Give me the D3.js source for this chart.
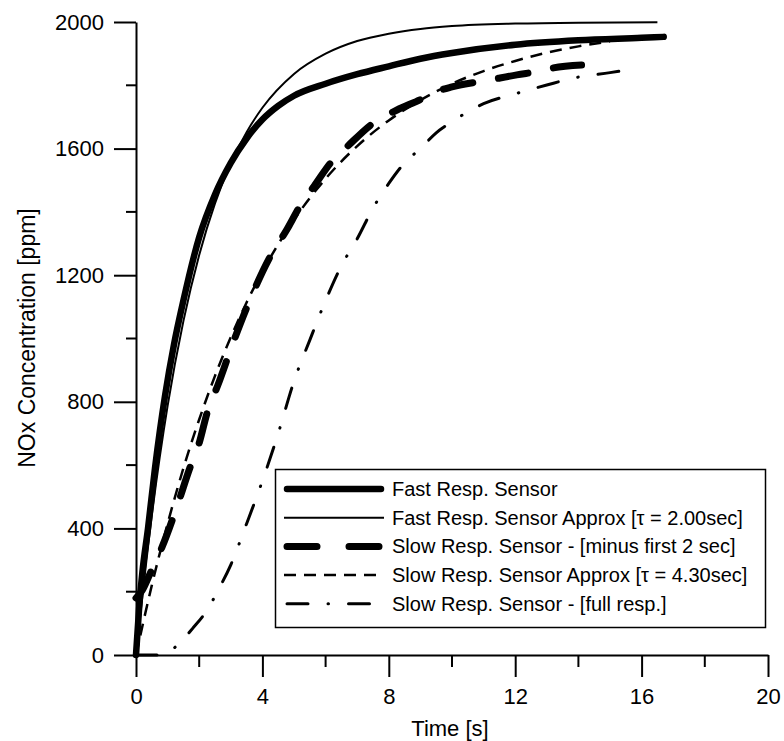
<!DOCTYPE html>
<html>
<head>
<meta charset="utf-8">
<script src="https://cdn.jsdelivr.net/npm/d3@7"></script>
<style>
  body { margin: 0; background: #fff; }
  svg text { font-family: "Liberation Sans", Arial, sans-serif; fill: #000; }
</style>
</head>
<body>
<div class="graphic"></div>
<script>
// values, [time s, NOx ppm]
var fastSensor = [[0,0],[0.1,150],[0.2,260],[0.38,400],[0.6,590],[0.92,820],[1.2,980],[1.5,1120],[2,1320],[2.5,1455],[3,1555],[3.5,1632],[4,1692],[4.5,1735],[5,1767],[6,1805],[7,1835],[8,1860],[9,1884],[10,1902],[12,1928],[14,1942],[16,1950],[16.7,1953]];
var fastApprox = [[0,0],[0.5,440],[1,787],[1.5,1055],[2,1264],[2.5,1427],[3,1554],[3.5,1652],[4,1729],[5,1836],[6,1900],[7,1940],[8,1963],[9,1978],[10,1987],[12,1995],[14,1998],[16.5,1999]];
var slowMinus2 = [[0,180],[0.2,205],[0.5,270],[0.82,340],[1.3,470],[1.7,590],[2,670],[2.25,765],[2.6,855],[3.07,986],[3.7,1144],[4.2,1250],[4.78,1345],[5.2,1420],[5.66,1485],[6.2,1560],[6.7,1608],[7.5,1680],[8.26,1722],[9,1755],[9.5,1780],[10,1795],[11.2,1817],[12.05,1833],[12.78,1845],[13.2,1855],[14.1,1864]];
var slowApprox = [[0,0],[0.5,220],[1,415],[1.5,590],[2,744],[2.5,882],[3,1004],[3.5,1114],[4,1211],[5,1375],[6,1505],[7,1608],[8,1689],[9,1753],[10,1805],[11,1845],[12,1877],[13,1903],[14,1923],[15,1939]];
var slowFull = [[0,0],[0.8,0],[1.3,30],[1.8,85],[2.25,142],[2.6,205],[3,285],[3.5,415],[4,550],[4.5,700],[5,865],[5.5,995],[6,1120],[6.5,1230],[7,1315],[7.5,1412],[8,1490],[8.5,1555],[9,1600],[9.5,1650],[10,1685],[11,1742],[12,1773],[13,1801],[14,1826],[15,1840],[15.9,1855]];

var seriesNames = ["Fast Resp. Sensor", "Fast Resp. Sensor Approx [\u03c4 = 2.00sec]", "Slow Resp. Sensor - [minus first 2 sec]", "Slow Resp. Sensor Approx [\u03c4 = 4.30sec]", "Slow Resp. Sensor - [full resp.]"];
var xTicks = [0, 4, 8, 12, 16, 20];
var yTicks = [0, 400, 800, 1200, 1600, 2000];

var render = function() {
  var containerElement = document.querySelector(".graphic");
  containerElement.innerHTML = "";

  var width = 784, height = 741;
  var svg = d3.select(containerElement).append("svg")
    .attr("width", width)
    .attr("height", height);

  var x = d3.scaleLinear().domain([0, 20]).range([136, 768]);
  var y = d3.scaleLinear().domain([0, 2000]).range([655, 22]);

  // styles for each series (same order as seriesNames)
  var styles = [
    { data: fastSensor, w: 6.5, dash: null, cap: "round" },
    { data: fastApprox, w: 2, dash: null, cap: "butt" },
    { data: slowMinus2, w: 7, dash: "30,26", cap: "round" },
    { data: slowApprox, w: 2.5, dash: "12,8", cap: "butt" },
    { data: slowFull, w: 3, dash: "21,20,0.5,20", cap: "round" }
  ];

  // axes
  var xAxis = svg.append("g")
    .attr("transform", "translate(0," + y(0) + ")")
    .call(d3.axisBottom(x).tickValues(xTicks).tickFormat(d3.format("d")).tickSize(22).tickSizeOuter(0).tickPadding(11));
  xAxis.append("g")
    .selectAll("line")
    .data([2, 6, 10, 14, 18])
    .enter().append("line")
    .attr("x1", function(d) { return x(d); })
    .attr("x2", function(d) { return x(d); })
    .attr("y2", 12)
    .attr("stroke", "#000");

  var yAxis = svg.append("g")
    .attr("transform", "translate(" + x(0) + ",0)")
    .call(d3.axisLeft(y).tickValues(yTicks).tickFormat(d3.format("d")).tickSize(22).tickSizeOuter(0).tickPadding(10));
  yAxis.append("g")
    .selectAll("line")
    .data([200, 600, 1000, 1400, 1800])
    .enter().append("line")
    .attr("y1", function(d) { return y(d); })
    .attr("y2", function(d) { return y(d); })
    .attr("x2", -10)
    .attr("stroke", "#000");

  svg.selectAll(".domain, .tick line, g line").attr("stroke-width", 2);
  svg.selectAll(".tick text")
    .attr("font-size", 22)
    .style("font-family", "'Liberation Sans', Arial, sans-serif");

  svg.append("text")
    .attr("x", 450)
    .attr("y", 736)
    .attr("text-anchor", "middle")
    .attr("font-size", 22)
    .text("Time [s]");

  svg.append("text")
    .attr("transform", "translate(35,338) rotate(-90)")
    .attr("text-anchor", "middle")
    .attr("font-size", 23)
    .text("NOx Concentration [ppm]");

  // curves
  var line = d3.line()
    .x(function(d) { return x(d[0]); })
    .y(function(d) { return y(d[1]); })
    .curve(d3.curveMonotoneX);

  svg.append("g")
    .selectAll("path")
    .data(styles)
    .enter().append("path")
    .attr("d", function(d) { return line(d.data); })
    .attr("fill", "none")
    .attr("stroke", "#000")
    .attr("stroke-width", function(d) { return d.w; })
    .attr("stroke-dasharray", function(d) { return d.dash; })
    .attr("stroke-linecap", function(d) { return d.cap; })
    .attr("stroke-linejoin", "round");

  // legend
  var legend = svg.append("g");
  legend.append("rect")
    .attr("x", 275.5)
    .attr("y", 469.5)
    .attr("width", 490)
    .attr("height", 158)
    .attr("fill", "#fff")
    .attr("stroke", "#000")
    .attr("stroke-width", 1.5);

  var legendDash = [null, null, "30,32", "12,8", "21,20,0.5,20"];
  var rows = legend.selectAll(".row")
    .data(styles)
    .enter().append("g")
    .attr("class", "row")
    .attr("transform", function(d, i) { return "translate(0," + (489 + i * 28.7) + ")"; });

  rows.append("line")
    .attr("x1", function(d) { return d.cap == "round" ? 287 : 284; })
    .attr("x2", function(d) { return d.cap == "round" ? 381 : 384; })
    .attr("stroke", "#000")
    .attr("stroke-width", function(d) { return d.w; })
    .attr("stroke-dasharray", function(d, i) { return legendDash[i]; })
    .attr("stroke-linecap", function(d) { return d.cap; });

  rows.append("text")
    .attr("x", 392)
    .attr("dy", "0.35em")
    .attr("font-size", 20)
    .text(function(d, i) { return seriesNames[i]; });
};

render();
</script>
</body>
</html>
